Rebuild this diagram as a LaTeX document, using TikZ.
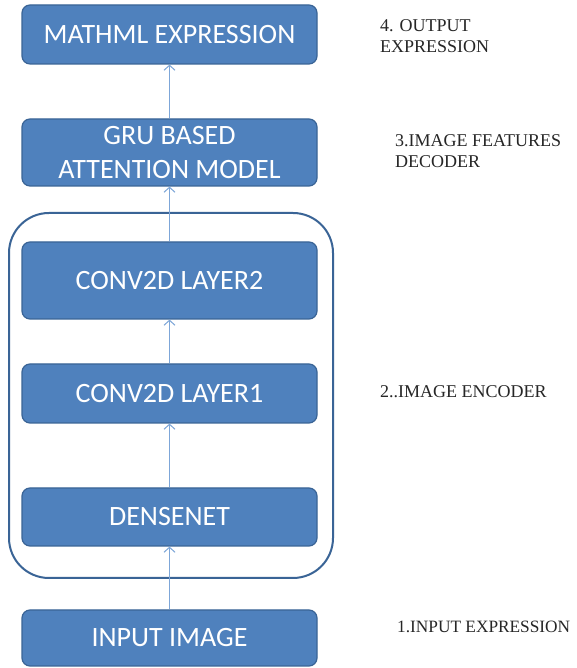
\documentclass[tikz,border=0pt]{standalone}
\usepackage{fontspec}
\setmainfont{Liberation Serif}
\newfontfamily\boxfont{Carlito}
\usetikzlibrary{arrows.meta}
\definecolor{boxfill}{HTML}{4F81BD}
\definecolor{boxline}{HTML}{3A6496}
\definecolor{arrowcol}{HTML}{7DA6D8}
\definecolor{labelcol}{HTML}{262626}
\begin{document}
\begin{tikzpicture}[x=1pt,y=1pt,
  blockbox/.style={draw=boxline, line width=1.2pt, fill=boxfill, rounded corners=8pt,
    minimum width=295pt, inner sep=0pt, align=center, text=white,
    font=\boxfont\fontsize{28}{34}\selectfont},
  sidelabel/.style={anchor=base west, inner sep=0pt, text=labelcol, align=left,
    font=\fontsize{18}{21}\selectfont},
  flow/.style={draw=arrowcol, line width=1pt, -{Straight Barb[length=5pt,width=11pt]}}]
\useasboundingbox (0,0) rectangle (576,668);
\fill[white] (0,0) rectangle (576,668);
% encoder container
\node[draw=boxline, line width=2pt, rounded corners=40pt, minimum width=324pt,
  minimum height=365pt, inner sep=0pt] (enc) at (171,272.5) {};
% blocks
\node[blockbox, minimum height=59pt] (out) at (169.5,633.5) {MATHML EXPRESSION};
\node[blockbox, minimum height=67pt] (gru) at (169.5,515.5) {GRU BASED\\ATTENTION MODEL};
\node[blockbox, minimum height=77pt] (l2) at (169.5,387.5) {CONV2D LAYER2};
\node[blockbox, minimum height=59pt] (l1) at (169.5,274.5) {CONV2D LAYER1};
\node[blockbox, minimum height=58pt] (dn) at (169.5,151) {DENSENET};
\node[blockbox, minimum height=56pt] (in) at (169.5,30) {INPUT IMAGE};
% connectors
\draw[flow] (in.north) -- (dn.south);
\draw[flow] (dn.north) -- (l1.south);
\draw[flow] (l1.north) -- (l2.south);
\draw[flow] (l2.north) -- (gru.south);
\draw[flow] (gru.north) -- (out.south);
% side labels
\node[sidelabel] (lab4) at (380,615) {4. OUTPUT\\EXPRESSION};
\node[sidelabel] (lab3) at (395,500) {3.IMAGE FEATURES\\DECODER};
\node[sidelabel] (lab2) at (380,270) {2..IMAGE ENCODER};
\node[sidelabel, font=\fontsize{17.3}{21}\selectfont] (lab1) at (397,35) {1.INPUT EXPRESSION};
\end{tikzpicture}
\end{document}
